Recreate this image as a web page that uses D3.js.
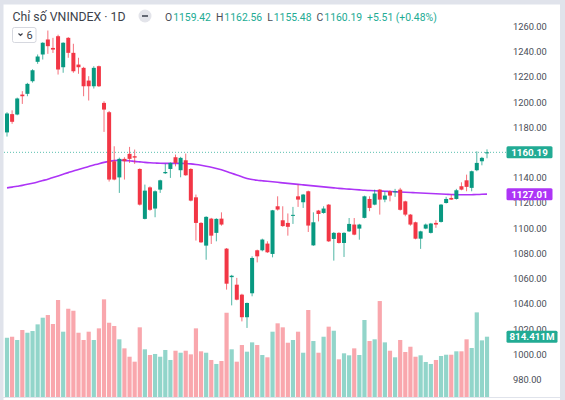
<!DOCTYPE html>
<html>
<head>
<meta charset="utf-8">
<script src="https://cdn.jsdelivr.net/npm/d3@7"></script>
<style>
html,body{margin:0;padding:0;background:#fff;}
svg{display:block;font-family:Roboto,"Noto Sans",sans-serif;}
</style>
</head>
<body>
<svg id="chart" width="565" height="400"></svg>
<script>
const title = "Chỉ số VNINDEX · 1D";
const opens = [1176,1190.5,1190.2,1206,1206.6,1216.6,1232,1237.8,1249.7,1243,
1252.3,1227.7,1251,1239.1,1229.8,1227.2,1217.1,1212.6,1228.5,1199.4,
1192,1153.1,1140.3,1155,1159,1157.1,1147,1107.4,1132.4,1115.6,
1130.6,1143.6,1147,1156.3,1146,1153.9,1147,1124.5,1104.2,1086.2,
1107.6,1096.3,1107.6,1083.8,1061.2,1055.2,1047.3,1029.4,1048.4,1082.5,
1082.5,1087.8,1079.6,1117.4,1106.3,1104.2,1109.8,1125.3,1120.6,1129.3,
1086.4,1114,1112.1,1118.7,1091.5,1096.3,1088.3,1097.5,1102.9,1099.7,
1108.2,1123.2,1118.7,1130.6,1122.7,1129.3,1128.5,1130.6,1121.3,1110.8,
1104.7,1091.7,1099.7,1096.3,1104.2,1105,1120,1124,1123.2,1133.3,
1138,1132,1146,1153.1,1159.42];
const highs = [1192,1193.5,1203.6,1208.7,1215.3,1226.1,1237.8,1247.5,1256.8,1251,
1253.5,1247.5,1251.6,1246.3,1235.2,1228,1220.6,1228.5,1229,1200.7,
1193,1165,1156,1156.3,1164.5,1162.4,1147.5,1134.6,1133.2,1130,
1138.5,1151.1,1152.2,1158.4,1156.6,1159.2,1147.6,1126.7,1104.8,1109.5,
1108.2,1107.9,1112.6,1084.3,1063,1060.6,1048,1041,1077.7,1083,
1091.7,1089.6,1114.5,1125.3,1117.4,1111.7,1116.9,1134.6,1127.2,1129.8,
1112.6,1114.5,1117.4,1119.2,1097,1096.8,1096.8,1108.1,1108.1,1103.5,
1125.8,1125.3,1130.6,1131.1,1129.3,1130.1,1131.2,1132,1121.8,1111.3,
1105.2,1098,1103.7,1104.2,1106.3,1119.2,1124.9,1126.7,1131.2,1136.4,
1142.5,1145.7,1161,1156.6,1162.56];
const lows = [1172.7,1182.8,1189.6,1198.6,1204.7,1215.5,1230.4,1233.8,1238.3,1239,
1221.9,1223.3,1235.2,1223.3,1222.5,1204.7,1201.3,1210.8,1212,1176.4,
1137,1138,1128,1138.6,1151.8,1151,1118,1107,1113.8,1108.7,
1128,1143,1139.9,1149.1,1140.4,1141.6,1121.3,1090.2,1088.3,1075,
1087.5,1089.6,1102,1051.3,1038.8,1042.8,1026.1,1020.9,1046,1072.9,
1081.7,1080.4,1076.9,1114,1101.1,1094.1,1103.4,1116.9,1116.1,1097,
1086,1105.4,1111.5,1089.1,1074.3,1087.8,1077.2,1097,1094.4,1090.9,
1107.8,1113.5,1118.2,1110.8,1120.6,1121.3,1124.9,1114,1109.5,1102,
1091.2,1083.6,1099.2,1095.8,1100.3,1104.5,1119.6,1122.5,1122.7,1130.1,
1129.3,1129.3,1145.2,1149.9,1155.48];
const closes = [1191,1184.4,1202.9,1204.7,1214.5,1225.3,1236.2,1247.1,1244.4,1241.7,
1225.9,1247.1,1239.1,1224.5,1227.7,1212.6,1212.6,1227.2,1212.6,1194.1,
1138.6,1138.6,1155,1153.1,1155,1156,1118.7,1129.8,1114.6,1129.3,
1138,1144.6,1151.8,1151.8,1155.8,1142,1121.9,1104.2,1088.8,1109,
1094.1,1107.4,1102.9,1056,1062.3,1043.3,1029.4,1040.7,1076.4,1077.7,
1091,1080.9,1114.2,1114.8,1101.7,1101.1,1110.6,1122.7,1126.7,1102.1,
1104.7,1111.3,1115.6,1089.6,1096.3,1088.3,1096.3,1103.4,1094.9,1102.9,
1125.3,1116.1,1127.5,1122.7,1125.9,1125.9,1129.3,1114.6,1110.8,1102.9,
1091.7,1097.5,1102.9,1103.7,1102.9,1118.7,1123.2,1122.7,1130.1,1130.6,
1132.8,1145.2,1151.8,1155.8,1160.19];
const volumes = [800,814,770,905,868,891,981,1071,1107,986,
1310,882,1192,1165,868,770,882,770,927,1319,
1003,959,779,657,544,477,941,644,567,581,
544,635,500,625,598,625,576,927,617,598,
500,446,486,1138,644,477,702,612,738,702,
567,536,882,995,941,733,770,882,598,1175,
756,598,814,950,895,509,590,563,657,567,
1040,756,779,1296,738,625,536,770,608,679,
544,563,473,446,500,554,571,571,617,617,
779,662,1143,765,814.411];
const maValues = [1132.0,1132.6,1133.3,1134.0,1134.8,1135.7,1136.7,1137.8,1138.9,1140.2,
1141.5,1142.8,1144.1,1145.4,1146.6,1147.8,1149.0,1150.1,1151.2,1152.2,
1153.0,1153.6,1153.9,1153.8,1153.5,1153.0,1152.6,1152.2,1151.9,1151.7,
1151.5,1151.4,1151.4,1151.4,1151.4,1151.3,1151.0,1150.5,1149.9,1149.2,
1148.4,1147.4,1146.3,1145.0,1143.6,1142.2,1140.8,1139.5,1138.6,1138.0,
1137.6,1137.2,1136.8,1136.4,1136.0,1135.6,1135.2,1134.8,1134.4,1134.0,
1133.6,1133.2,1132.8,1132.4,1132.0,1131.6,1131.3,1131.0,1130.7,1130.4,
1130.1,1129.9,1129.7,1129.5,1129.3,1129.1,1128.9,1128.7,1128.5,1128.3,
1128.1,1127.9,1127.7,1127.5,1127.3,1127.1,1126.9,1126.7,1126.6,1126.5,
1126.5,1126.6,1126.7,1126.9,1127.01];
const priceTicks = [980,1000,1020,1040,1060,1080,1100,1120,1140,1160,1180,1200,1220,1240,1260];
const legendOHLC = [["O","1159.42"],["H","1162.56"],["L","1155.48"],["C","1160.19"]];
const changeText = "+5.51 (+0.48%)";
const intervalCount = "6";
const lastVolumeLabel = "814.411M";

const UP = "#089981", DOWN = "#f23645";
const UP_VOL = "#92d5ca", DOWN_VOL = "#f9a7ad";
const MA_COLOR = "#ad34f6";
const TEAL = "#22ab94";

const svg = d3.select("#chart");
const n = closes.length;
const x = d3.scaleLinear().domain([0, n - 1]).range([7, 487]);
const y = d3.scaleLinear().domain([980, 1260]).range([379.5, 26.5]);
const yv = d3.scaleLinear().domain([0, 814.411]).range([397, 336.7]);

const data = d3.range(n).map(i => ({i, o: opens[i], h: highs[i], l: lows[i], c: closes[i], v: volumes[i], ma: maValues[i]}));

svg.append("rect").attr("x",0).attr("y",0).attr("width",565).attr("height",400).attr("fill","#fff");

// volume
svg.append("g").selectAll("rect").data(data).join("rect")
  .attr("x", d => x(d.i) - 2.1).attr("width", 4.2)
  .attr("y", d => yv(d.v)).attr("height", d => yv(0) - yv(d.v))
  .attr("fill", d => d.c >= d.o ? UP_VOL : DOWN_VOL);

// price line (dotted)
svg.append("line").attr("x1", 4).attr("x2", 506)
  .attr("y1", y(closes[n-1])).attr("y2", y(closes[n-1]))
  .attr("stroke", TEAL).attr("stroke-width", 1).attr("stroke-dasharray", "1,2").attr("opacity", 0.75);

// MA line
svg.append("path").datum(data)
  .attr("d", d3.line().x(d => x(d.i)).y(d => y(d.ma)).curve(d3.curveMonotoneX))
  .attr("fill", "none").attr("stroke", MA_COLOR).attr("stroke-width", 1.6);

// candles
const cg = svg.append("g");
cg.selectAll("line").data(data).join("line")
  .attr("x1", d => x(d.i)).attr("x2", d => x(d.i))
  .attr("y1", d => y(d.h)).attr("y2", d => y(d.l))
  .attr("stroke", d => d.c >= d.o ? UP : DOWN).attr("stroke-width", 1).attr("opacity", 0.7);
cg.selectAll("rect").data(data).join("rect")
  .attr("x", d => x(d.i) - 2).attr("width", 4)
  .attr("y", d => y(Math.max(d.o, d.c)))
  .attr("height", d => Math.max(1, Math.abs(y(d.o) - y(d.c))))
  .attr("fill", d => d.c >= d.o ? UP : DOWN);

// y axis (the tick hidden under the last-price tag is not drawn, as in the reference)
const lastY = y(closes[n-1]);
const shownTicks = priceTicks.filter(t => Math.abs(y(t) - lastY) > 4);
const axis = d3.axisRight(y).tickValues(shownTicks).tickFormat(d3.format(".2f")).tickSize(0).tickPadding(2);
const ag = svg.append("g").attr("transform", "translate(511,0)").call(axis);
ag.select(".domain").remove();
ag.selectAll("text").attr("font-family", "Roboto, sans-serif").attr("font-size", 9.3).attr("fill", "#4a4d57");

// tags on axis
function tag(yc, w, fill, txt) {
  const g = svg.append("g");
  g.append("rect").attr("x", 506.5).attr("y", yc - 6).attr("width", w).attr("height", 12).attr("rx", 1.5).attr("fill", fill);
  g.append("text").attr("x", 506.5 + w / 2).attr("y", yc).attr("dy", "0.36em")
    .attr("text-anchor", "middle").attr("font-size", 9.8).attr("font-weight", "bold").attr("fill", "#fff").text(txt);
}
tag(lastY, 46, TEAL, d3.format(".2f")(closes[n-1]));
tag(y(maValues[n-1]), 46, MA_COLOR, d3.format(".2f")(maValues[n-1]));
tag(yv(volumes[n-1]), 51, TEAL, lastVolumeLabel);

// borders
svg.append("rect").attr("x",0).attr("y",0).attr("width",565).attr("height",4.5).attr("fill","#e0e3eb");
svg.append("rect").attr("x",0).attr("y",0).attr("width",3.5).attr("height",400).attr("fill","#e0e3eb");
svg.append("rect").attr("x",560).attr("y",0).attr("width",5).attr("height",400).attr("fill","#e0e3eb");
svg.append("line").attr("x1",0).attr("x2",565).attr("y1",397.5).attr("y2",397.5).attr("stroke","#e0e3eb");

// legend
svg.append("text").attr("x", 12.5).attr("y", 20.5).attr("font-size", 12.3).attr("fill", "#3c3f4a").text(title);
svg.append("circle").attr("cx", 145).attr("cy", 16).attr("r", 6.5).attr("fill", "#e3e4ea");
svg.append("line").attr("x1", 142).attr("x2", 148).attr("y1", 16).attr("y2", 16).attr("stroke", "#555a66").attr("stroke-width", 1.8);

const lt = svg.append("text").attr("x", 165).attr("y", 20.5).attr("font-size", 10.4);
legendOHLC.forEach(([k, v], j) => {
  lt.append("tspan").attr("fill", "#4a4d57").attr("dx", j === 0 ? 0 : 5).text(k);
  lt.append("tspan").attr("fill", TEAL).attr("dx", 1).text(v);
});
lt.append("tspan").attr("fill", TEAL).attr("dx", 5).text(changeText);

const bx = svg.append("g");
bx.append("rect").attr("x", 12.5).attr("y", 27.5).attr("width", 23.5).attr("height", 15).attr("rx", 2)
  .attr("fill", "#fff").attr("stroke", "#d6d8df");
bx.append("path").attr("d", "M18.5,33.5 L20.5,35.5 L22.5,33.5").attr("fill", "none").attr("stroke", "#3c3f4a").attr("stroke-width", 1.2);
bx.append("text").attr("x", 26.5).attr("y", 39).attr("font-size", 11).attr("fill", "#3c3f4a").text(intervalCount);
</script>
</body>
</html>
